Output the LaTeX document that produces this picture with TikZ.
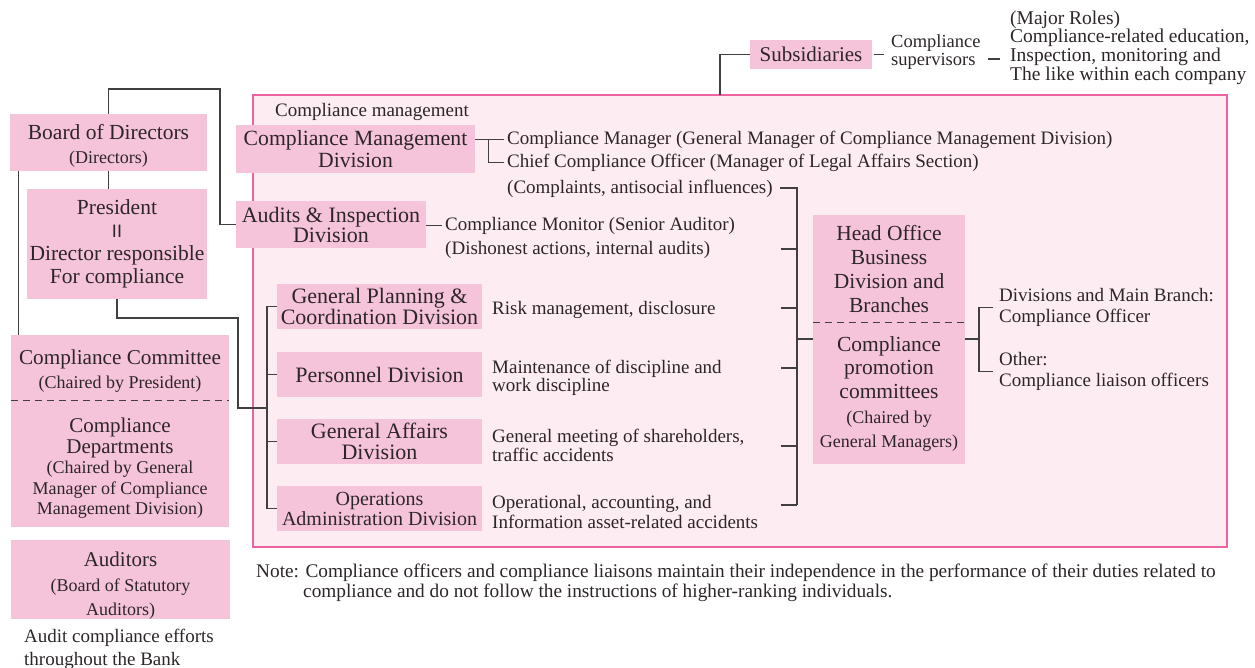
\documentclass[tikz,border=0pt]{standalone}
\usepackage{fontspec}
\setmainfont{Liberation Serif}
\newfontfamily\barfont{Liberation Sans}
\definecolor{boxpink}{RGB}{246,196,218}
\definecolor{areafill}{RGB}{253,236,242}
\definecolor{areaedge}{RGB}{236,98,163}
\definecolor{wirecol}{RGB}{64,64,64}
\definecolor{ink}{RGB}{45,38,40}
\newcommand\fntsub{\fontsize{18}{20}\selectfont}
\newcommand\fntdesc{\fontsize{19}{23}\selectfont}

\begin{document}
\begin{tikzpicture}[x=1pt,y=-1pt,
  sz/.style 2 args={minimum width=#1pt, minimum height=#2pt},
  pinkbox/.style={fill=boxpink, text=ink, inner sep=0pt, align=center},
  boxtext/.style={text=ink, inner sep=0pt, align=center},
  desc/.style={text=ink, inner xsep=3pt, inner ysep=0pt, align=left, anchor=west, font=\fntdesc},
  link/.style={draw=wirecol, line width=1.1pt},
  dashsep/.style={draw=wirecol, line width=0.9pt, dash pattern=on 7pt off 5pt}]
\useasboundingbox (0,0) rectangle (1255,667);

% compliance management area
\node[draw=areaedge, fill=areafill, line width=2.2pt, sz={974}{452}, inner sep=0pt] (area) at (740,321) {};
\node[desc] (cmlabel) at (272,112) {Compliance management};

% left column
\node[pinkbox, sz={197}{57}] (board) at (108.5,142.5) {};
\node[boxtext, font=\fontsize{21.5}{24}\selectfont] (board-t) at ([yshift=-3.5pt]board.center)
  {Board of Directors\\{\fntsub (Directors)}};
\node[pinkbox, sz={180}{110}, font=\fontsize{21.5}{23}\selectfont] (pres) at (117,244)
  {President\\{\barfont\fontsize{18}{18}\selectfont II}\\Director responsible\\For compliance};
\node[pinkbox, sz={218}{66}] (cctop) at (120,368) {};
\node[boxtext, font=\fontsize{21.2}{24}\selectfont] (cctop-t) at ([yshift=-3pt]cctop.center)
  {Compliance Committee\\{\fntsub (Chaired by President)}};
\node[pinkbox, sz={218}{126}] (ccbot) at (120,464) {};
\node[boxtext, font=\fontsize{21}{20.5}\selectfont] (ccbot-t) at ([yshift=-4.5pt]ccbot.center)
  {Compliance\\Departments\\{\fntsub (Chaired by General}\\{\fntsub Manager of Compliance}\\{\fntsub Management Division)}};
\node[pinkbox, sz={219}{79}] (aud) at (120.5,579.5) {};
\node[boxtext, font=\fontsize{21}{24.5}\selectfont] (aud-t) at ([yshift=-6.5pt]aud.center)
  {Auditors\\{\fntsub (Board of Statutory}\\{\fntsub Auditors)}};
\node[desc] (effort) at (21,649) {Audit compliance efforts\\throughout the Bank};

% divisions
\node[pinkbox, sz={239}{48}, font=\fontsize{21.7}{22}\selectfont] (cmd) at (355.5,149)
  {Compliance Management\\Division};
\node[pinkbox, sz={190}{47}, font=\fontsize{22}{20}\selectfont] (ains) at (331,224.5)
  {Audits \& Inspection\\Division};
\node[pinkbox, sz={205}{45}, font=\fontsize{22}{20}\selectfont] (gpcd) at (379.5,306.5)
  {General Planning \&\\Coordination Division};
\node[pinkbox, sz={205}{45}, font=\fontsize{22}{20}\selectfont] (pers) at (379.5,374.5)
  {Personnel Division};
\node[pinkbox, sz={205}{45}, font=\fontsize{22}{21}\selectfont] (gad) at (379.5,441.5)
  {General Affairs\\Division};
\node[pinkbox, sz={205}{45}, font=\fontsize{20}{20}\selectfont] (ops) at (379.5,508.5)
  {Operations\\Administration Division};

% roles and areas of responsibility
\node[desc] (cmgr) at (504,139.5) {Compliance Manager (General Manager of Compliance Management Division)};
\node[desc] (cco) at (504,162.5) {Chief Compliance Officer (Manager of Legal Affairs Section)};
\node[desc] (cmplt) at (504,189) {(Complaints, antisocial influences)};
\node[desc] (mon) at (442,225.5) {Compliance Monitor (Senior Auditor)};
\node[desc] (dish) at (442,249.5) {(Dishonest actions, internal audits)};
\node[desc] (risk) at (489,310) {Risk management, disclosure};
\node[desc, font=\fontsize{19}{18.5}\selectfont] (maint) at (489,378) {Maintenance of discipline and\\work discipline};
\node[desc, font=\fontsize{19}{19}\selectfont] (gmeet) at (489,445) {General meeting of shareholders,\\traffic accidents};
\node[desc, font=\fontsize{19}{20}\selectfont] (opacc) at (489,511.5) {Operational, accounting, and\\Information asset-related accidents};

% head office and branches
\node[pinkbox, sz={152}{108}, font=\fontsize{21.5}{24}\selectfont] (hotop) at (889,269)
  {Head Office\\Business\\Division and\\Branches};
\node[pinkbox, sz={152}{141}, font=\fontsize{21.5}{23.5}\selectfont] (hobot) at (889,393.5)
  {Compliance\\promotion\\committees\\[2pt]{\fntsub (Chaired by}\\{\fntsub General Managers)}};
\node[desc, inner xsep=6pt, font=\fontsize{19}{21}\selectfont] (divs) at (993,307.5) {Divisions and Main Branch:\\Compliance Officer};
\node[desc, inner xsep=6pt, font=\fontsize{19}{21}\selectfont] (other) at (993,371.5) {Other:\\Compliance liaison officers};

% subsidiaries
\node[pinkbox, sz={122}{29}, font=\fontsize{21}{22}\selectfont] (subs) at (811,54.5) {Subsidiaries};
\node[desc, font=\fontsize{18.5}{18}\selectfont] (sup) at (888,52) {Compliance\\supervisors};
\node[desc, font=\fontsize{19.5}{18.7}\selectfont] (roles) at (1007,47.5)
  {(Major Roles)\\Compliance-related education,\\Inspection, monitoring and\\The like within each company};

% note
\node[desc, font=\fontsize{19.3}{20.5}\selectfont] (note) at (253,583)
  {Note: Compliance officers and compliance liaisons maintain their independence in the performance of their duties related to\\\hspace*{47pt}compliance and do not follow the instructions of higher-ranking individuals.};

% connectors, left side
\coordinate (topbend) at (220,89);
\draw[link] (board.north) |- (topbend) |- (ains.west);
\draw[link] (board.south) -- (board.south |- pres.north);
\coordinate (lv) at ([xshift=9pt]board.south west);
\draw[link] (lv) -- (lv |- cctop.north);
\coordinate (pbend) at (238,318);
\coordinate (lbrk) at (267,408);
\draw[link] (pres.south) |- (pbend) |- (lbrk);
\draw[link] (gpcd.west) -- (gpcd.west -| lbrk) -- (ops.west -| lbrk) -- (ops.west);
\draw[link] (pers.west) -- (pers.west -| lbrk);
\draw[link] (gad.west) -- (gad.west -| lbrk);

% connectors, compliance management division
\draw[link] (cmd.east |- cmgr.west) -- (cmgr.west);
\path (cmd.east |- cmgr.west) ++(13,0) coordinate (cmj);
\draw[link] (cmj) |- (cco.west);
\draw[link] (ains.east |- mon.west) -- (mon.west);

% connectors, right bracket
\coordinate (rtop) at (797,188);
\coordinate (rbot) at (797,505);
\draw[link] ([xshift=4pt]cmplt.east |- rtop) -- (rtop) -- (rbot);
\foreach \n/\yy in {t1/249, t2/308, t3/368, t4/446, t5/505}
  \coordinate (\n) at (781,\yy);
\foreach \n in {t1,t2,t3,t4,t5}
  \draw[link] (\n) -- (\n -| rtop);
\coordinate (hoj) at (797,339);
\draw[link] (hoj) -- (hoj -| hobot.west);
\coordinate (hor) at (979,339);
\draw[link] (hoj -| hobot.east) -- (hor);
\draw[link] (divs.west) -| (hor) |- (other.west);

% connectors, subsidiaries
\coordinate (sdrop) at (720,95);
\draw[link] (sdrop) |- (subs.west);
\draw[link] ([xshift=2pt]subs.east) -- ([xshift=12pt]subs.east);
\coordinate (rdash) at (988,59);
\draw[link, shorten >=7pt] (rdash) -- (rdash -| roles.west);

% dashed separators
\draw[dashsep] (ccbot.north west) -- (ccbot.north east);
\draw[dashsep] (hobot.north west) -- (hobot.north east);
\end{tikzpicture}
\end{document}
